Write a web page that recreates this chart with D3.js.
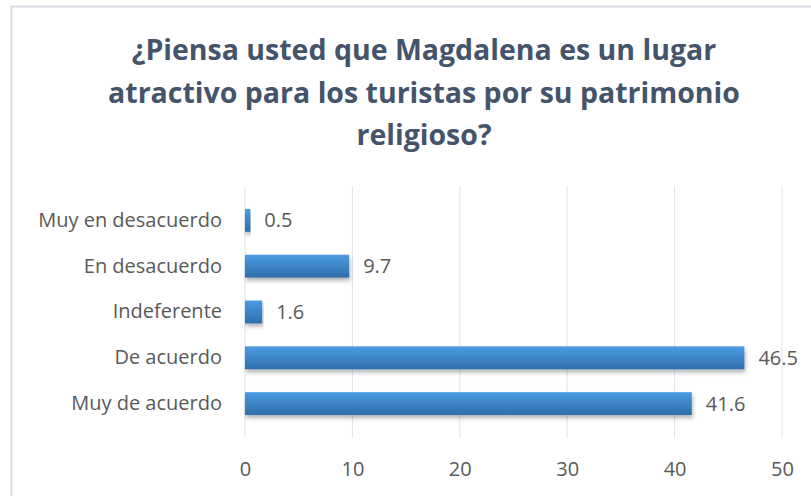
<!DOCTYPE html>
<html>
<head>
<meta charset="utf-8">
<script src="https://cdn.jsdelivr.net/npm/d3@7"></script>
<style>
  body { margin: 0; background: #fff; }
  svg text { font-family: "Open Sans", "Noto Sans", sans-serif; }
</style>
</head>
<body>
<div id="chart"></div>
<script>
// data
var categories = ["Muy en desacuerdo", "En desacuerdo", "Indeferente", "De acuerdo", "Muy de acuerdo"];
var values = [0.5, 9.7, 1.6, 46.5, 41.6];
var xTicks = [0, 10, 20, 30, 40, 50];
var titleLines = ["¿Piensa usted que Magdalena es un lugar", "atractivo para los turistas por su patrimonio", "religioso?"];

var w = 811, h = 496;
var margin = {top: 186, right: 29, bottom: 58, left: 245};
var width = w - margin.left - margin.right,
    height = h - margin.top - margin.bottom;

var data = categories.map(function(c, i) { return {cat: c, val: values[i]}; });

var x = d3.scaleLinear().domain([0, 50]).range([0, width]);
var y = d3.scaleBand().domain(categories).range([0, height]).padding(0.5);

var svg = d3.select("#chart").append("svg")
    .attr("width", w)
    .attr("height", h);

var defs = svg.append("defs");
var grad = defs.append("linearGradient")
    .attr("id", "barGrad")
    .attr("x1", 0).attr("y1", 0).attr("x2", 0).attr("y2", 1);
grad.append("stop").attr("offset", "0%").attr("stop-color", "#4a9be2");
grad.append("stop").attr("offset", "100%").attr("stop-color", "#2f6eaa");

var shadow = defs.append("filter").attr("id", "shadow")
    .attr("x", "-5%").attr("y", "-20%").attr("width", "115%").attr("height", "160%");
shadow.append("feDropShadow")
    .attr("dx", 1).attr("dy", 3).attr("stdDeviation", 2)
    .attr("flood-color", "#000").attr("flood-opacity", 0.3);

// chart area border
svg.append("rect")
    .attr("x", 11.5).attr("y", 6.5)
    .attr("width", w + 10).attr("height", h + 10)
    .attr("fill", "none")
    .attr("stroke", "#d9dde3")
    .attr("stroke-width", 2);

// title
svg.append("g").selectAll("text")
    .data(titleLines)
    .enter().append("text")
    .attr("x", 424)
    .attr("y", function(d, i) { return 60 + i * 42.5; })
    .attr("text-anchor", "middle")
    .attr("font-size", "28.5px")
    .attr("font-weight", "bold")
    .attr("fill", "#44546a")
    .text(function(d) { return d; });

var g = svg.append("g")
    .attr("transform", "translate(" + margin.left + "," + margin.top + ")");

// gridlines
g.append("g")
    .selectAll("line")
    .data(xTicks)
    .enter().append("line")
    .attr("x1", function(d) { return x(d); })
    .attr("x2", function(d) { return x(d); })
    .attr("y1", 0)
    .attr("y2", height)
    .attr("stroke", "#dde3ec")
    .attr("stroke-width", 1);

// x axis
var xAxis = g.append("g")
    .attr("transform", "translate(0," + height + ")")
    .call(d3.axisBottom(x).tickValues(xTicks).tickSize(0).tickPadding(24));
xAxis.select(".domain").remove();
xAxis.selectAll("text")
    .attr("font-size", "20px")
    .attr("fill", "#595959");

// y axis
var yAxis = g.append("g")
    .call(d3.axisLeft(y).tickSize(0).tickPadding(23));
yAxis.select(".domain").remove();
yAxis.selectAll("text")
    .attr("font-size", "20px")
    .attr("fill", "#595959");

// bars
g.selectAll(".bar")
    .data(data)
    .enter().append("rect")
    .attr("class", "bar")
    .attr("x", 0)
    .attr("y", function(d) { return y(d.cat); })
    .attr("width", function(d) { return x(d.val); })
    .attr("height", y.bandwidth())
    .attr("fill", "url(#barGrad)")
    .attr("filter", "url(#shadow)");

// value labels
g.selectAll(".val")
    .data(data)
    .enter().append("text")
    .attr("class", "val")
    .attr("x", function(d) { return x(d.val) + 14; })
    .attr("y", function(d) { return y(d.cat) + y.bandwidth() / 2; })
    .attr("dy", "0.35em")
    .attr("font-size", "20px")
    .attr("fill", "#595959")
    .text(function(d) { return d.val.toFixed(1); });
</script>
</body>
</html>
